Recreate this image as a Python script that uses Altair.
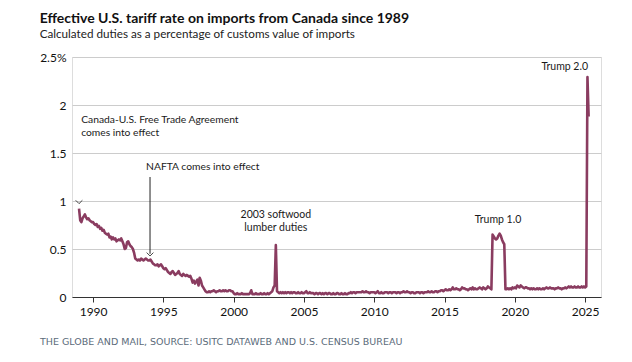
import altair as alt
import pandas as pd

# Monthly effective tariff rate (%), Jan..Dec of each year
v1989 = [0.92, 0.80, 0.78, 0.82, 0.84, 0.86, 0.83, 0.81, 0.82, 0.80, 0.79, 0.78]
v1990 = [0.78, 0.76, 0.75, 0.76, 0.73, 0.74, 0.71, 0.72, 0.69, 0.70, 0.67, 0.66]
v1991 = [0.65, 0.66, 0.62, 0.63, 0.60, 0.62, 0.60, 0.61, 0.58, 0.59, 0.60, 0.59]
v1992 = [0.61, 0.58, 0.55, 0.50, 0.51, 0.57, 0.58, 0.55, 0.53, 0.52, 0.50, 0.46]
v1993 = [0.40, 0.39, 0.38, 0.39, 0.38, 0.40, 0.39, 0.38, 0.39, 0.40, 0.39, 0.38]
v1994 = [0.38, 0.39, 0.37, 0.35, 0.34, 0.33, 0.33, 0.34, 0.32, 0.33, 0.34, 0.32]
v1995 = [0.30, 0.29, 0.30, 0.28, 0.26, 0.25, 0.24, 0.26, 0.27, 0.25, 0.23, 0.24]
v1996 = [0.25, 0.27, 0.24, 0.23, 0.22, 0.24, 0.23, 0.22, 0.23, 0.22, 0.21, 0.22]
v1997 = [0.19, 0.15, 0.17, 0.14, 0.16, 0.18, 0.12, 0.20, 0.17, 0.12, 0.10, 0.08]
v1998 = [0.06, 0.05, 0.05, 0.06, 0.05, 0.06, 0.06, 0.07, 0.06, 0.05, 0.06, 0.06]
v1999 = [0.07, 0.06, 0.06, 0.07, 0.06, 0.07, 0.06, 0.06, 0.07, 0.07, 0.06, 0.06]
v2000 = [0.04, 0.03, 0.03, 0.04, 0.03, 0.03, 0.03, 0.04, 0.03, 0.03, 0.03, 0.03]
v2001 = [0.03, 0.03, 0.04, 0.07, 0.03, 0.03, 0.03, 0.04, 0.03, 0.03, 0.03, 0.04]
v2002 = [0.03, 0.03, 0.04, 0.03, 0.03, 0.04, 0.03, 0.04, 0.05, 0.06, 0.10, 0.12]
v2003 = [0.54, 0.06, 0.05, 0.04, 0.05, 0.04, 0.05, 0.04, 0.05, 0.04, 0.05, 0.05]
v2004 = [0.04, 0.05, 0.04, 0.05, 0.05, 0.04, 0.04, 0.05, 0.04, 0.04, 0.05, 0.04]
v2005 = [0.04, 0.05, 0.06, 0.04, 0.04, 0.05, 0.04, 0.04, 0.04, 0.03, 0.04, 0.04]
v2006 = [0.03, 0.04, 0.04, 0.03, 0.04, 0.03, 0.04, 0.04, 0.03, 0.04, 0.04, 0.03]
v2007 = [0.03, 0.04, 0.03, 0.03, 0.04, 0.04, 0.03, 0.03, 0.04, 0.03, 0.03, 0.04]
v2008 = [0.03, 0.03, 0.04, 0.04, 0.05, 0.04, 0.05, 0.05, 0.04, 0.05, 0.05, 0.05]
v2009 = [0.05, 0.05, 0.06, 0.05, 0.05, 0.06, 0.05, 0.05, 0.04, 0.05, 0.05, 0.05]
v2010 = [0.05, 0.04, 0.05, 0.06, 0.04, 0.04, 0.05, 0.04, 0.04, 0.05, 0.05, 0.05]
v2011 = [0.04, 0.05, 0.05, 0.04, 0.05, 0.05, 0.05, 0.04, 0.05, 0.05, 0.04, 0.05]
v2012 = [0.05, 0.06, 0.05, 0.05, 0.06, 0.05, 0.05, 0.04, 0.05, 0.05, 0.04, 0.04]
v2013 = [0.05, 0.05, 0.05, 0.04, 0.05, 0.05, 0.04, 0.05, 0.05, 0.05, 0.06, 0.05]
v2014 = [0.05, 0.06, 0.05, 0.05, 0.06, 0.06, 0.05, 0.06, 0.06, 0.07, 0.07, 0.06]
v2015 = [0.07, 0.08, 0.07, 0.07, 0.08, 0.07, 0.08, 0.10, 0.08, 0.08, 0.09, 0.08]
v2016 = [0.08, 0.07, 0.08, 0.10, 0.09, 0.09, 0.08, 0.08, 0.07, 0.08, 0.09, 0.08]
v2017 = [0.10, 0.08, 0.09, 0.08, 0.08, 0.09, 0.10, 0.09, 0.08, 0.10, 0.09, 0.08]
v2018 = [0.09, 0.11, 0.10, 0.09, 0.08, 0.65, 0.63, 0.61, 0.60, 0.61, 0.64, 0.66]
v2019 = [0.64, 0.60, 0.57, 0.55, 0.08, 0.08, 0.09, 0.08, 0.09, 0.08, 0.10, 0.09]
v2020 = [0.10, 0.09, 0.12, 0.11, 0.10, 0.12, 0.11, 0.10, 0.09, 0.10, 0.10, 0.09]
v2021 = [0.09, 0.08, 0.09, 0.08, 0.09, 0.08, 0.08, 0.09, 0.08, 0.09, 0.08, 0.08]
v2022 = [0.09, 0.08, 0.09, 0.10, 0.09, 0.09, 0.10, 0.09, 0.09, 0.09, 0.08, 0.09]
v2023 = [0.09, 0.10, 0.09, 0.09, 0.08, 0.09, 0.09, 0.10, 0.09, 0.10, 0.11, 0.10]
v2024 = [0.11, 0.10, 0.10, 0.11, 0.10, 0.10, 0.11, 0.10, 0.10, 0.11, 0.10, 0.11]
v2025 = [0.10, 0.11, 2.29, 1.88]

series_by_year = [
    (1989, v1989), (1990, v1990), (1991, v1991), (1992, v1992), (1993, v1993),
    (1994, v1994), (1995, v1995), (1996, v1996), (1997, v1997), (1998, v1998),
    (1999, v1999), (2000, v2000), (2001, v2001), (2002, v2002), (2003, v2003),
    (2004, v2004), (2005, v2005), (2006, v2006), (2007, v2007), (2008, v2008),
    (2009, v2009), (2010, v2010), (2011, v2011), (2012, v2012), (2013, v2013),
    (2014, v2014), (2015, v2015), (2016, v2016), (2017, v2017), (2018, v2018),
    (2019, v2019), (2020, v2020), (2021, v2021), (2022, v2022), (2023, v2023),
    (2024, v2024), (2025, v2025),
]

x_ticks = [1990, 1995, 2000, 2005, 2010, 2015, 2020, 2025]
y_ticks = [0, 0.5, 1, 1.5, 2, 2.5]

# annotation labels (left-aligned and centred groups)
left_text = ["Canada-U.S. Free Trade Agreement", "comes into effect", "NAFTA comes into effect"]
left_x = [1989.15, 1989.15, 1993.77]
left_y = [1.84, 1.705, 1.355]
center_text = ["2003 softwood", "lumber duties", "Trump 1.0", "Trump 2.0"]
center_x = [2003.0, 2003.0, 2018.8, 2023.55]
center_y = [0.855, 0.72, 0.80, 2.395]

# arrows (chevron positions) and the NAFTA leader line
chev_x = [1989.0, 1994.05]
chev_y = [0.99, 0.445]
rule_x = [1994.05]
rule_y = [1.25]
rule_y2 = [0.45]

rows = []
for yr, vals in series_by_year:
    for m, v in enumerate(vals):
        rows.append({"year": yr + m / 12.0, "rate": v})
df = pd.DataFrame(rows)

left_df = pd.DataFrame({"x": left_x, "y": left_y, "t": left_text})
center_df = pd.DataFrame({"x": center_x, "y": center_y, "t": center_text})
chev_df = pd.DataFrame({"x": chev_x, "y": chev_y})
rule_df = pd.DataFrame({"x": rule_x, "y": rule_y, "y2": rule_y2})

FONT = "Lato"
xscale = alt.Scale(domain=[1988.5, 2026.13], nice=False, zero=False)
yscale = alt.Scale(domain=[0, 2.5], nice=False)

line = alt.Chart(df).mark_line(color="#8a3c60", strokeWidth=2.6, strokeJoin="round").encode(
    x=alt.X("year:Q", scale=xscale,
            axis=alt.Axis(values=x_ticks, format="d", grid=False, title=None,
                          domainColor="#333333", tickColor="#333333", tickSize=5,
                          labelPadding=4, labelFontSize=12, labelColor="#111111",
                          labelFont=FONT, domainWidth=1.2)),
    y=alt.Y("rate:Q", scale=yscale,
            axis=alt.Axis(values=y_ticks, title=None, domain=False, ticks=False,
                          gridColor="#cccccc", gridWidth=1, labelPadding=6,
                          labelFontSize=12, labelColor="#111111", labelFont=FONT,
                          labelExpr="datum.value == 2.5 ? '2.5%' : format(datum.value, '~g')")),
)

texts_left = alt.Chart(left_df).mark_text(fontSize=10.3, font=FONT, color="#1a1a1a",
                                          baseline="middle", align="left").encode(
    x=alt.X("x:Q", scale=xscale), y=alt.Y("y:Q", scale=yscale), text="t:N")

texts_center = alt.Chart(center_df).mark_text(fontSize=10.5, font=FONT, color="#1a1a1a",
                                              baseline="middle", align="center").encode(
    x=alt.X("x:Q", scale=xscale), y=alt.Y("y:Q", scale=yscale), text="t:N")

rules = alt.Chart(rule_df).mark_rule(color="#222222", strokeWidth=1).encode(
    x=alt.X("x:Q", scale=xscale),
    y=alt.Y("y:Q", scale=yscale),
    y2="y2:Q",
)

chev = alt.Chart(chev_df).mark_point(shape="M-1,-0.5L0,0.5L1,-0.5", size=45, filled=False,
                                    color="#444444", strokeWidth=1, opacity=1).encode(
    x=alt.X("x:Q", scale=xscale),
    y=alt.Y("y:Q", scale=yscale),
)

source = alt.Chart(pd.DataFrame({"s": ["THE GLOBE AND MAIL, SOURCE: USITC DATAWEB AND U.S. CENSUS BUREAU"]})).mark_text(
    align="left", baseline="middle", fontSize=9.5, font="DejaVu Sans", color="#5b6b7a"
).encode(x=alt.value(-32), y=alt.value(285), text="s:N")

chart = alt.layer(line, rules, chev, texts_left, texts_center, source).properties(
    width=529, height=240,
    autosize=alt.AutoSizeParams(type="none"),
    padding={"left": 64, "top": 49, "right": 23, "bottom": 57},
    title=alt.TitleParams(
        text="Effective U.S. tariff rate on imports from Canada since 1989",
        subtitle="Calculated duties as a percentage of customs value of imports",
        anchor="start", frame="bounds", font=FONT, fontSize=14, fontWeight="bold",
        color="#111111", subtitleFont=FONT, subtitleFontSize=11.7, subtitleColor="#222222",
        subtitlePadding=3, offset=10,
    ),
).configure_view(stroke=None).configure(background="white")

chart.save("out.html", embed_options={"renderer": "svg", "actions": False})
